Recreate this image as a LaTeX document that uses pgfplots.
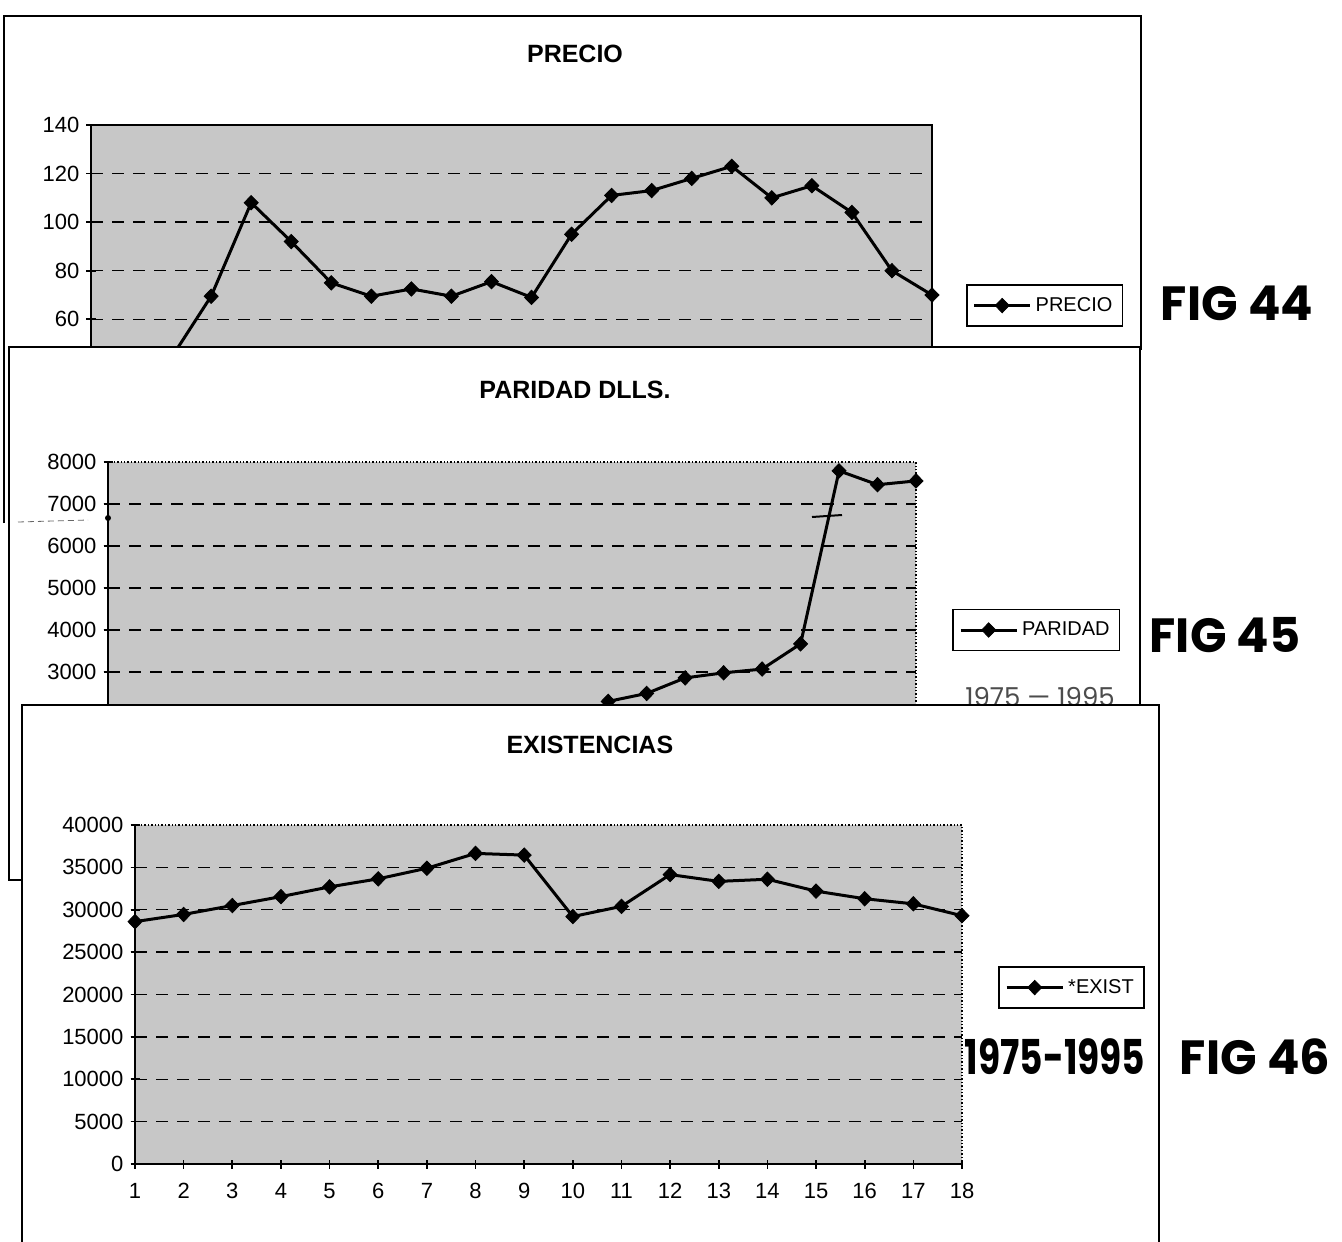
\documentclass[border=0pt]{standalone}
\usepackage{fontspec}
\setmainfont{Liberation Sans}
\newfontfamily\hand{Poppins}
\usepackage{pgfplots}
\pgfplotsset{compat=1.18}

\pgfplotsset{
  ser/.style={black, line width=1.5pt, mark=diamond*, mark size=3.6pt,
      mark options={solid, fill=black, line width=0.4pt, xscale=1.3}},
  panel/.style={
    scale only axis,
    clip=false,
    axis line style={draw=none},
    tick pos=left,
    tick align=center,
    major tick length=4.5pt,
    tick style={black, line width=0.8pt},
    ticklabel style={font=\fontsize{11}{13}\selectfont},
    xticklabel style={yshift=-4pt},
    scaled ticks=false,
    /pgf/number format/assume math mode=true,
    /pgf/number format/1000 sep={},
    /pgf/number format/fixed,
    title style={font=\bfseries\fontsize{12.5}{15}\selectfont, anchor=center, yshift=-6pt},
    legend style={draw=black, line width=0.8pt, font=\fontsize{10}{12}\selectfont,
      anchor=center, inner xsep=3pt, inner ysep=4pt, cells={anchor=west}},
    legend image code/.code={\draw[mark repeat=2, mark phase=2, #1] plot coordinates {(0pt,0pt) (14pt,0pt) (28pt,0pt)};},
    major grid style={black, line width=0.7pt, dash pattern=on 6pt off 4.5pt},
  },
}

\begin{document}
\begin{tikzpicture}
\begin{scope}[x=0.5pt, y=-0.5pt]
  \fill[white] (-5,-5) rectangle (1350,1250);
  % panel 1 frame
  \fill[white] (4,16) rectangle (1141,523);
  \draw[black, line width=0.8pt] (4,523) -- (4,16) -- (1141,16) -- (1141,350);
\end{scope}

% ---------------- PRECIO ----------------
\begin{axis}[panel,
  at={(45.5pt,-232.5pt)}, anchor=south west,
  width=420.5pt, height=170pt,
  xmin=1, xmax=22, ymin=0, ymax=140,
  xtick={1,...,22}, xticklabels={},
  ytick={60,80,...,140},
  extra y ticks={20,40,...,120}, extra y tick labels={},
  extra y tick style={grid=major},
  axis background/.style={fill=black!22, draw=black, line width=0.6pt},
  title={PRECIO}, title style={at={(0.5755,1.2088)}},
  legend style={at={(1.1338,0.469)}},
]
\draw[black, line width=1pt] (rel axis cs:0,1) -- (rel axis cs:0,0) -- (rel axis cs:1,0);
\addplot[ser] coordinates {(3,44) (4,69.5) (5,108) (6,92) (7,75) (8,69.5) (9,72.5) (10,69.5)
  (11,75.5) (12,69) (13,95) (14,111) (15,113) (16,118) (17,123) (18,110) (19,115)
  (20,104) (21,80) (22,70)};
\addlegendentry{PRECIO}
\end{axis}

\begin{scope}[x=0.5pt, y=-0.5pt]
  \fill[white] (9,347) rectangle (1140,880);
  \draw[black, line width=0.8pt] (9,347) rectangle (1140,880);
\end{scope}

% ---------------- PARIDAD ----------------
\begin{axis}[panel,
  at={(54pt,-399pt)}, anchor=south west,
  width=404pt, height=168pt,
  xmin=1, xmax=22, ymin=0, ymax=8000,
  xtick={1,...,22}, xticklabels={},
  ytick={2000,3000,...,8000},
  extra y ticks={1000,2000,...,7000}, extra y tick labels={},
  extra y tick style={grid=major},
  axis background/.style={fill=black!22, draw=black, line width=0.7pt, densely dotted},
  title={PARIDAD DLLS.}, title style={at={(0.578,1.214)}},
  legend style={at={(1.149,0.5)}},
]
\draw[black, line width=1pt] (rel axis cs:0,1) -- (rel axis cs:0,0) -- (rel axis cs:1,0);
\addplot[ser] coordinates {(14,2300) (15,2490) (16,2860) (17,2980) (18,3070) (19,3670)
  (20,7790) (21,7460) (22,7550)};
\addlegendentry{PARIDAD}
\end{axis}

\begin{scope}[x=0.5pt, y=-0.5pt]
  \draw[black, line width=1pt] (812,517) -- (842,515);
  \draw[black!60, dash pattern=on 3pt off 2pt] (18,522) -- (88,520);
  \fill[black] (108,518) circle (3);
  \node[anchor=base, text=black!70, font=\hand\fontsize{13}{15}\selectfont] at (1040,706) {1975 — 1995};
  % panel 3 frame
  \fill[white] (22,705) rectangle (1159,1260);
  \draw[black, line width=0.8pt] (22,1260) -- (22,705) -- (1159,705) -- (1159,1260);
\end{scope}

% ---------------- EXISTENCIAS ----------------
\begin{axis}[panel,
  at={(67.5pt,-582pt)}, anchor=south west,
  width=413.5pt, height=169.5pt,
  xmin=1, xmax=18, ymin=0, ymax=40000,
  xtick={1,...,18},
  ytick={0,5000,...,40000},
  extra y ticks={5000,10000,...,35000}, extra y tick labels={},
  extra y tick style={grid=major},
  axis background/.style={fill=black!22, draw=black, line width=0.7pt, densely dotted},
  title={EXISTENCIAS}, title style={at={(0.550,1.236)}},
  legend style={at={(1.1324,0.5206)}},
]
\draw[black, line width=1pt] (rel axis cs:0,1) -- (rel axis cs:0,0) -- (rel axis cs:1,0);
\addplot[ser] coordinates {(1,28600) (2,29450) (3,30500) (4,31550) (5,32700) (6,33650)
  (7,34900) (8,36650) (9,36450) (10,29200) (11,30400) (12,34150) (13,33350)
  (14,33600) (15,32200) (16,31300) (17,30700) (18,29300)};
\addlegendentry{*EXIST}
\end{axis}

\begin{scope}[x=0.5pt, y=-0.5pt]
  \node[font=\hand\bfseries\fontsize{24}{28}\selectfont] at (1237,303) {FIG 44};
  \node[font=\hand\bfseries\fontsize{24}{28}\selectfont] at (1225,635) {FIG 45};
  \node[font=\hand\bfseries\fontsize{24}{28}\selectfont, xscale=0.75] at (1055,1057) {1975-1995};
  \node[font=\hand\bfseries\fontsize{24}{28}\selectfont] at (1255,1057) {FIG 46};
\end{scope}

\pgfresetboundingbox
\path[use as bounding box] (0pt,0pt) rectangle (671pt,-620.5pt);
\end{tikzpicture}
\end{document}
